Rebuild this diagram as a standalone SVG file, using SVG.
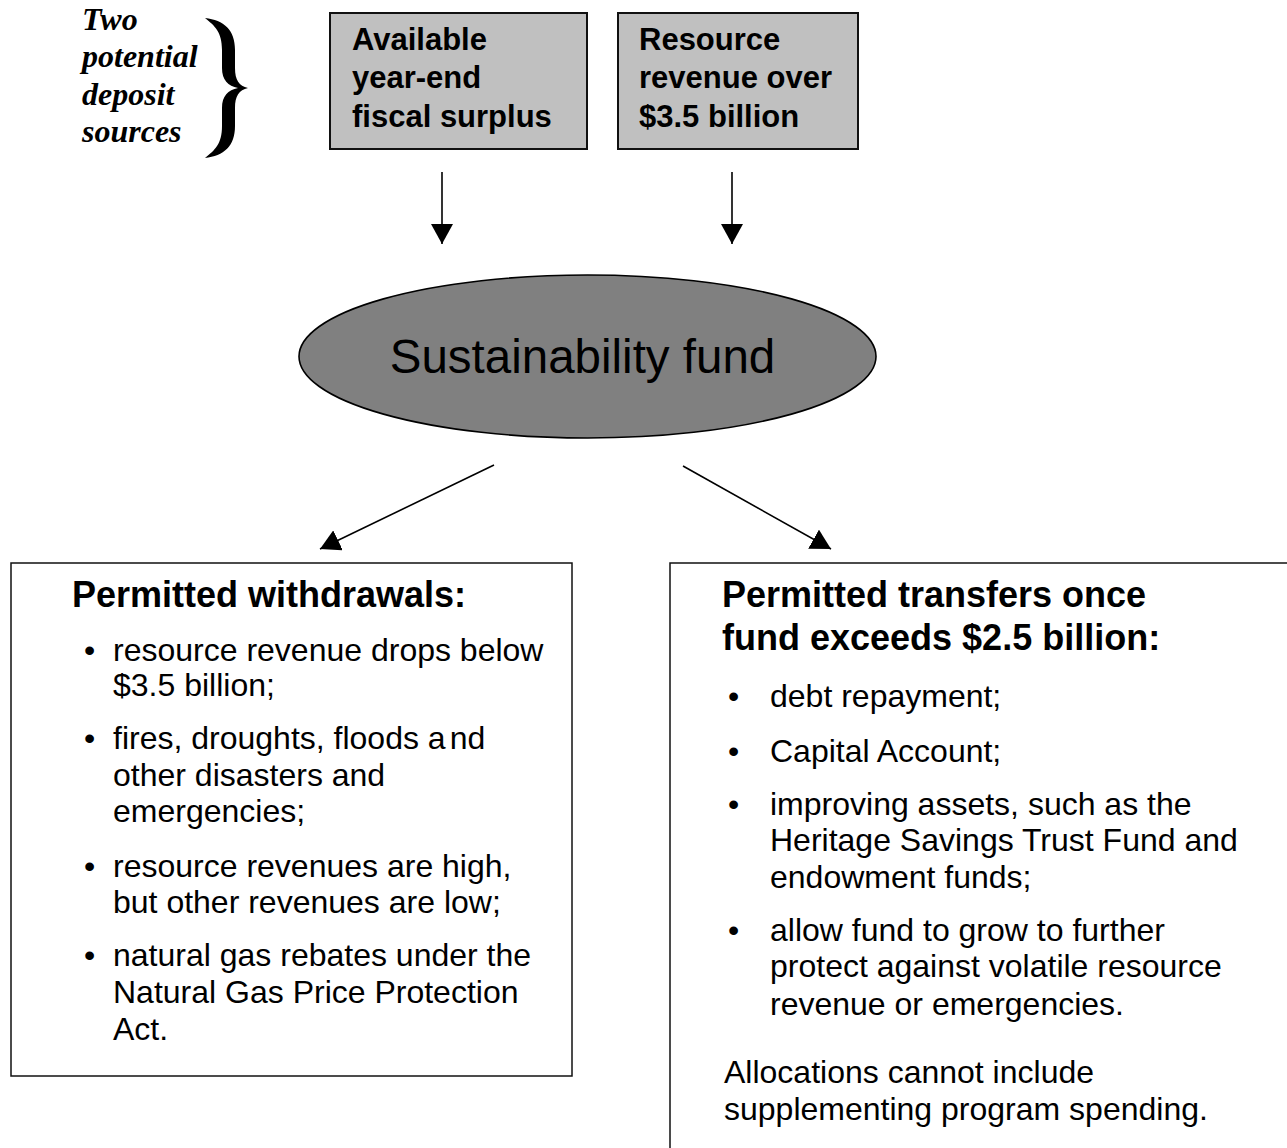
<svg xmlns="http://www.w3.org/2000/svg" width="1287" height="1148" viewBox="0 0 1287 1148">
<style>
.box{fill:#c0c0c0;stroke:#111;stroke-width:2}
.panel{fill:#fff;stroke:#111;stroke-width:1.5}
.bt{font-family:"Liberation Sans",Arial,sans-serif;font-weight:bold;font-size:31px;fill:#000}
.hd{font-family:"Liberation Sans",Arial,sans-serif;font-weight:bold;font-size:36px;fill:#000}
.tx{font-family:"Liberation Sans",Arial,sans-serif;font-size:32px;fill:#000}
.it{font-family:"Liberation Serif","Times New Roman",serif;font-weight:bold;font-style:italic;font-size:32px;fill:#000}
.conn{stroke:#000;stroke-width:1.6;fill:none;marker-end:url(#ah)}
</style>
<defs>
<marker id="ah" viewBox="0 0 20 22" refX="20" refY="11" markerWidth="20" markerHeight="22" markerUnits="userSpaceOnUse" orient="auto">
<path d="M0,0 L20,11 L0,22 Z" fill="#000"/>
</marker>
</defs>
<rect width="1287" height="1148" fill="#fff"/>
<g id="sources-label">
<text class="it" x="82" y="30">Two</text>
<text class="it" x="82" y="67">potential</text>
<text class="it" x="82" y="105">deposit</text>
<text class="it" x="82" y="142">sources</text>
<path d="M205,18 C224,20 235,30 235,50 L235,68 C235,80 239,86 248,88 C239,90 235,96 235,108 L235,126 C235,146 224,156 205,158 C215,150 222,144 222,126 L222,108 C222,96 228,90 238,88 C228,86 222,80 222,68 L222,50 C222,32 215,26 205,18 Z" fill="#000"/>
</g>
<g id="surplus">
<rect class="box" x="330" y="13" width="257" height="136"/>
<text class="bt" x="352" y="50">Available</text>
<text class="bt" x="352" y="88">year-end</text>
<text class="bt" x="352" y="127">fiscal surplus</text>
</g>
<g id="resource">
<rect class="box" x="618" y="13" width="240" height="136"/>
<text class="bt" x="639" y="50">Resource</text>
<text class="bt" x="639" y="88">revenue over</text>
<text class="bt" x="639" y="127">$3.5 billion</text>
</g>
<g id="fund">
<ellipse cx="587.5" cy="356.5" rx="288.5" ry="81.5" fill="#808080" stroke="#000" stroke-width="1.6"/>
<text x="582.5" y="373" text-anchor="middle" font-family="Liberation Sans, Arial, sans-serif" font-size="47.5" fill="#000">Sustainability fund</text>
</g>
<g id="withdrawals">
<rect class="panel" x="11" y="563" width="561" height="513"/>
<text class="hd" x="72" y="607">Permitted withdrawals:</text>
<g class="tx">
<text x="84" y="661">•</text>
<text x="113" y="661">resource revenue drops below</text>
<text x="113" y="696">$3.5 billion;</text>
<text x="84" y="749">•</text>
<text x="113" y="749">fires, droughts, floods a<tspan dx="4">nd</tspan></text>
<text x="113" y="786">other disasters and</text>
<text x="113" y="822">emergencies;</text>
<text x="84" y="877">•</text>
<text x="113" y="877">resource revenues are high,</text>
<text x="113" y="913">but other revenues are low;</text>
<text x="84" y="966">•</text>
<text x="113" y="966">natural gas rebates under the</text>
<text x="113" y="1003">Natural Gas Price Protection</text>
<text x="113" y="1040">Act.</text>
</g>
</g>
<g id="transfers">
<rect class="panel" x="670" y="563" width="700" height="700"/>
<text class="hd" x="722" y="607">Permitted transfers once</text>
<text class="hd" x="722" y="650">fund exceeds $2.5 billion:</text>
<g class="tx">
<text x="728" y="707">•</text>
<text x="770" y="707">debt repayment;</text>
<text x="728" y="762">•</text>
<text x="770" y="762">Capital Account;</text>
<text x="728" y="815">•</text>
<text x="770" y="815">improving assets, such as the</text>
<text x="770" y="851">Heritage Savings Trust Fund and</text>
<text x="770" y="888">endowment funds;</text>
<text x="728" y="941">•</text>
<text x="770" y="941">allow fund to grow to further</text>
<text x="770" y="977">protect against volatile resource</text>
<text x="770" y="1015">revenue or emergencies.</text>
<text x="724" y="1083">Allocations cannot include</text>
<text x="724" y="1120">supplementing program spending.</text>
</g>
</g>
<g id="connectors">
<line class="conn" x1="442" y1="172" x2="442" y2="244"/>
<line class="conn" x1="732" y1="172" x2="732" y2="244"/>
<line class="conn" x1="494" y1="465" x2="320" y2="549"/>
<line class="conn" x1="683" y1="466" x2="831" y2="549"/>
</g>
</svg>
